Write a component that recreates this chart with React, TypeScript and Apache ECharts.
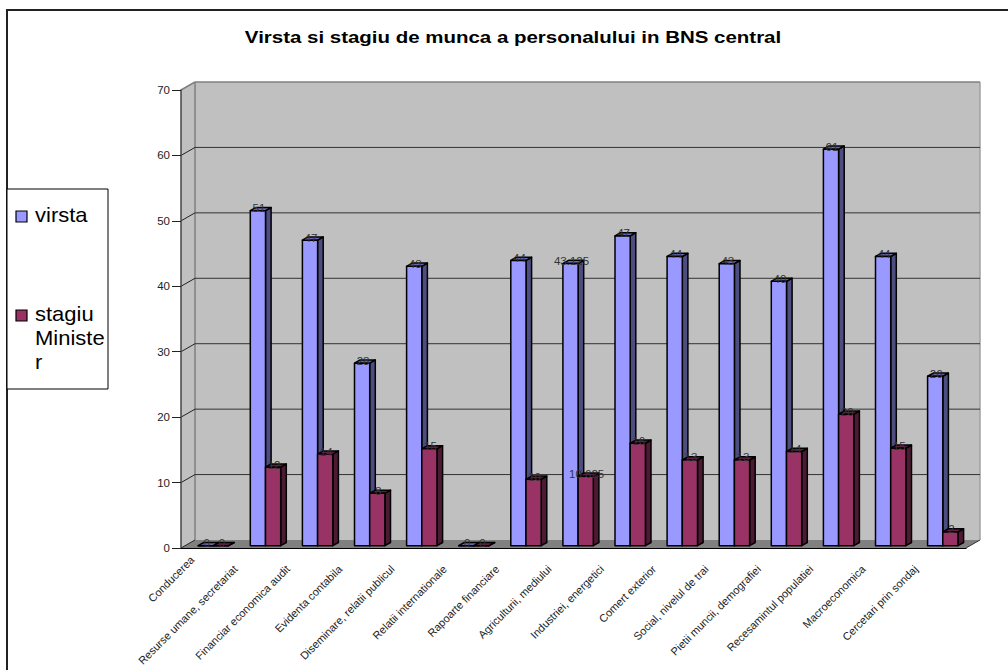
import React, { useEffect, useRef } from "react";
import * as echarts from "echarts";

const categories = [
  "Conducerea",
  "Resurse umane, secretariat",
  "Financiar economica audit",
  "Evidenta contabila",
  "Diseminare, relatii publicul",
  "Relatii internationale",
  "Rapoarte financiare",
  "Agriculturii, mediului",
  "Industriei, energetici",
  "Comert exterior",
  "Social, nivelul de trai",
  "Pietii muncii, demografiei",
  "Recesamintul populatiei",
  "Macroeconomica",
  "Cercetari prin sondaj",
];
const virsta = [0, 51.2, 46.7, 27.9, 42.7, 0, 43.6, 43.125, 47.35, 44.2, 43.1, 40.4, 60.6, 44.2, 25.9];
const stagiu = [0, 12, 14, 8, 14.8, 0, 10.15, 10.625, 15.66, 13.1, 13.1, 14.4, 20.1, 14.9, 2.1];
const virstaLabels = ["0", "51", "47", "28", "43", "0", "44", "43.125", "47", "44", "43", "40", "61", "44", "26"];
const stagiuLabels = ["0", "12", "14", "8", "15", "0", "10", "10.625", "16", "13", "13", "14", "20", "15", "2"];
const yTicks = [0, 10, 20, 30, 40, 50, 60, 70];

const FONT = "'Liberation Sans', Arial, sans-serif";
const DX = 14;
const DY = -8;
const BAR_W = 15.2;
const BAR_DX = 5.6;
const BAR_DY = -3.2;

function wallRender(params: any, api: any) {
  const band = api.size([1, 0])[0];
  const l = api.coord([0, 0])[0] - band / 2;
  const r = l + band * categories.length;
  const y0 = api.coord([0, 0])[1];
  const yTop = api.coord([0, 70])[1];
  const children: any[] = [
    {
      type: "polygon",
      shape: { points: [[l, yTop], [l + DX, yTop + DY], [l + DX, y0 + DY], [l, y0]] },
      style: { fill: "#c0c0c0" },
    },
    {
      type: "rect",
      shape: { x: l + DX, y: yTop + DY, width: r - l, height: y0 - yTop },
      style: { fill: "#c0c0c0" },
    },
    {
      type: "polygon",
      shape: { points: [[l, y0], [l + DX, y0 + DY], [r + DX, y0 + DY], [r, y0]] },
      style: { fill: "#808080" },
    },
    {
      type: "line",
      shape: { x1: l + DX, y1: yTop + DY, x2: l + DX, y2: y0 + DY },
      style: { stroke: "#808080", lineWidth: 1.5 },
    },
    {
      type: "line",
      shape: { x1: r + DX, y1: yTop + DY, x2: r + DX, y2: y0 + DY },
      style: { stroke: "#a0a0a0", lineWidth: 1.5 },
    },
    {
      type: "line",
      shape: { x1: r, y1: y0, x2: r + DX, y2: y0 + DY },
      style: { stroke: "#333", lineWidth: 1 },
    },
  ];
  yTicks.forEach((t) => {
    const y = api.coord([0, t])[1];
    const isTop = t === 70;
    children.push({
      type: "line",
      shape: { x1: l, y1: y, x2: l + DX, y2: y + DY },
      style: { stroke: isTop ? "#808080" : "#222", lineWidth: isTop ? 1.5 : 1 },
    });
    if (t > 0) {
      children.push({
        type: "line",
        shape: { x1: l + DX, y1: y + DY, x2: r + DX, y2: y + DY },
        style: { stroke: isTop ? "#808080" : "#333", lineWidth: isTop ? 1.5 : 1 },
      });
    }
  });
  return { type: "group", children };
}

function barRender(labels: string[], shift: number, front: string, side: string, top: string) {
  return (params: any, api: any) => {
    const i = api.value(0);
    const [cx, y1] = api.coord([i, api.value(1)]);
    const y0 = api.coord([i, 0])[1];
    const x0 = cx + shift;
    const x1 = x0 + BAR_W;
    const stroke = { stroke: "#000", lineWidth: 1.5, lineJoin: "round" };
    return {
      type: "group",
      children: [
        {
          type: "polygon",
          shape: { points: [[x1, y1], [x1 + BAR_DX, y1 + BAR_DY], [x1 + BAR_DX, y0 + BAR_DY], [x1, y0]] },
          style: { fill: side, ...stroke },
        },
        {
          type: "polygon",
          shape: { points: [[x0, y1], [x0 + BAR_DX, y1 + BAR_DY], [x1 + BAR_DX, y1 + BAR_DY], [x1, y1]] },
          style: { fill: top, ...stroke },
        },
        {
          type: "rect",
          shape: { x: x0, y: y1, width: BAR_W, height: y0 - y1 },
          style: { fill: front, ...stroke },
        },
        {
          type: "text",
          style: {
            x: (x0 + x1) / 2 + 1,
            y: y1 - 2.5,
            text: labels[i],
            fill: "#333",
            font: `11.5px ${FONT}`,
            align: "center",
            verticalAlign: "middle",
          },
        },
      ],
    };
  };
}

export default function App() {
  const ref = useRef<HTMLDivElement>(null);
  useEffect(() => {
    const chart = echarts.init(ref.current!, undefined, { renderer: "svg" });
    chart.setOption({
      animation: false,
      backgroundColor: "#fff",
      grid: [
        { left: 181, top: 90, width: 785, height: 458 },
        { left: 187.35, top: 87.7, width: 781.5, height: 458 },
      ],
      xAxis: [
        {
          type: "category",
          gridIndex: 0,
          data: categories.map((c, i) =>
            i === 0 ? { value: c, textStyle: { padding: [0, 21, 0, 0] } } : c
          ),
          z: 10,
          axisLine: { lineStyle: { color: "#000", width: 1.2 } },
          axisTick: { length: 8, lineStyle: { color: "#333", width: 1 } },
          axisLabel: {
            interval: 0,
            rotate: 45,
            margin: -5,
            padding: [0, 34, 0, 0],
            color: "#222",
            fontFamily: FONT,
            fontSize: 11,
          },
        },
        { type: "category", gridIndex: 1, data: categories, show: false },
      ],
      yAxis: [
        {
          type: "value",
          gridIndex: 0,
          min: 0,
          max: 70,
          interval: 10,
          z: 10,
          axisLine: { show: true, lineStyle: { color: "#444", width: 1.5 } },
          axisTick: { show: true, length: 9, lineStyle: { color: "#222", width: 1 } },
          axisLabel: { margin: 11, color: "#222", fontFamily: FONT, fontSize: 11.5 },
          splitLine: { show: false },
        },
        {
          type: "value",
          gridIndex: 1,
          min: 0,
          max: 70,
          interval: 10,
          show: false,
          splitLine: { show: false },
        },
      ],
      series: [
        {
          type: "custom",
          name: "walls",
          xAxisIndex: 0,
          yAxisIndex: 0,
          z: 1,
          silent: true,
          renderItem: wallRender,
          data: [[0, 0]],
          encode: { x: 0, y: 1 },
        },
        {
          type: "custom",
          name: "virsta",
          xAxisIndex: 1,
          yAxisIndex: 1,
          z: 3,
          renderItem: barRender(virstaLabels, -BAR_W, "#9999ff", "#4d4d80", "#6868b4"),
          data: virsta.map((v, i) => [i, v]),
          encode: { x: 0, y: 1 },
        },
        {
          type: "custom",
          name: "stagiu Minister",
          xAxisIndex: 1,
          yAxisIndex: 1,
          z: 4,
          renderItem: barRender(stagiuLabels, 0, "#993366", "#4d1a33", "#661a44"),
          data: stagiu.map((v, i) => [i, v]),
          encode: { x: 0, y: 1 },
        },
      ],
      graphic: [
        {
          type: "polyline",
          z: 20,
          shape: { points: [[7, 670], [7, 10], [1008, 10]] },
          style: { stroke: "#222", lineWidth: 2, fill: "none" },
        },
        {
          type: "text",
          z: 21,
          x: 513,
          y: 37,
          scaleX: 1.28,
          style: {
            text: "Virsta si stagiu de munca a personalului in BNS central",
            font: `bold 16px ${FONT}`,
            fill: "#000",
            align: "center",
            verticalAlign: "middle",
          },
        },
        {
          type: "rect",
          z: 20,
          shape: { x: 7, y: 189, width: 101, height: 200 },
          style: { fill: "#fff", stroke: "#000", lineWidth: 1 },
        },
        {
          type: "rect",
          z: 21,
          shape: { x: 16, y: 211, width: 11, height: 11 },
          style: { fill: "#9999ff", stroke: "#000", lineWidth: 1.2 },
        },
        {
          type: "rect",
          z: 21,
          shape: { x: 16, y: 310, width: 11, height: 11 },
          style: { fill: "#993366", stroke: "#000", lineWidth: 1.2 },
        },
        {
          type: "text",
          z: 21,
          x: 35,
          y: 205,
          scaleX: 1.1,
          style: { text: "virsta", font: `20px ${FONT}`, fill: "#000" },
        },
        {
          type: "text",
          z: 21,
          x: 35,
          y: 302,
          scaleX: 1.1,
          style: { text: "stagiu\nMiniste\nr", font: `20px ${FONT}`, fill: "#000", lineHeight: 24 },
        },
      ],
    });
    return () => chart.dispose();
  }, []);
  return (
    <div
      ref={ref}
      style={{ position: "absolute", left: 0, top: 0, width: 1008, height: 670 }}
    />
  );
}
